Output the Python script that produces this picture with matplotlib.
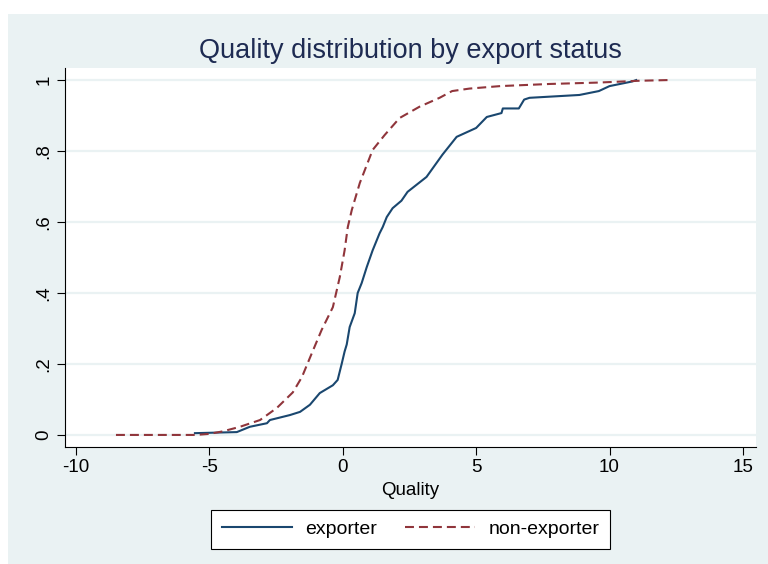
import matplotlib
matplotlib.use("Agg")
import matplotlib.pyplot as plt
from matplotlib.lines import Line2D

plt.rcParams['font.family'] = ['Liberation Sans', 'DejaVu Sans']
plt.rcParams['axes.unicode_minus'] = False

# Empirical CDF of quality, by export status
exporter_q = [-5.54, -3.97, -3.48, -2.84, -2.73, -1.98, -1.6, -1.23, -0.86, -0.37,
              -0.19, -0.04, 0.07, 0.15, 0.26, 0.45, 0.56, 0.71, 0.9, 1.12, 1.38,
              1.5, 1.65, 1.87, 2.2, 2.43, 3.14, 3.74, 4.27, 5.0, 5.4, 5.95, 6.0,
              6.6, 6.8, 7.0, 8.87, 9.6, 10.0, 10.85, 11.0]
exporter_cdf = [0.005, 0.008, 0.023, 0.033, 0.042, 0.056, 0.065, 0.085, 0.118, 0.14,
                0.155, 0.2, 0.235, 0.255, 0.304, 0.343, 0.4, 0.428, 0.473, 0.52, 0.568,
                0.586, 0.614, 0.639, 0.66, 0.685, 0.727, 0.79, 0.84, 0.865, 0.896, 0.907, 0.92,
                0.92, 0.945, 0.95, 0.958, 0.969, 0.983, 0.996, 1.0]

nonexporter_q = [-8.5, -5.5, -5.0, -4.5, -3.85, -3.1, -2.47, -1.87, -1.53, -1.16, -0.79,
                 -0.37, -0.11, 0.07, 0.19, 0.34, 0.64, 1.12, 1.57, 2.13, 2.88, 3.63,
                 4.1, 4.75, 5.9, 7.75, 9.6, 11.1, 12.2]
nonexporter_cdf = [0.0, 0.0, 0.003, 0.01, 0.023, 0.042, 0.076, 0.12, 0.163, 0.23, 0.296,
                   0.36, 0.445, 0.52, 0.586, 0.634, 0.71, 0.803, 0.845, 0.893, 0.925, 0.95,
                   0.969, 0.976, 0.983, 0.989, 0.993, 0.998, 1.0]

x_ticks = [-10, -5, 0, 5, 10, 15]
y_ticks = [0, 0.2, 0.4, 0.6, 0.8, 1.0]
y_tick_labels = ['0', '.2', '.4', '.6', '.8', '1']

navy = '#1A476F'
maroon = '#90353B'
bg = '#EAF2F3'

W, H = 768, 564
fig = plt.figure(figsize=(W / 100, H / 100), dpi=100, facecolor='white')

# graph region background
bg_ax = fig.add_axes([8 / W, 0, 1 - 8 / W, (H - 14) / H], zorder=0)
bg_ax.set_facecolor(bg)
bg_ax.set_xticks([])
bg_ax.set_yticks([])
for s in bg_ax.spines.values():
    s.set_visible(False)

ax = fig.add_axes([65 / W, (H - 447) / H, (756 - 65) / W, (447 - 68) / H], zorder=2)
ax.set_facecolor('white')

lw = 1.5
ax.plot(exporter_q, exporter_cdf, color=navy, lw=lw, label='exporter', zorder=3)
ax.plot(nonexporter_q, nonexporter_cdf, color=maroon, lw=lw,
        dashes=(4.3, 2.4), label='non-exporter', zorder=3)

ax.set_xlim(-10.41, 15.49)
ax.set_ylim(-0.034, 1.034)
ax.set_xticks(x_ticks)
ax.set_yticks(y_ticks)
ax.set_yticklabels(y_tick_labels, rotation=90, va='center')
ax.grid(axis='y', color=bg, lw=1.6, zorder=1)
ax.grid(axis='x', visible=False)

for s in ['top', 'right']:
    ax.spines[s].set_visible(False)
for s in ['left', 'bottom']:
    ax.spines[s].set_color('black')
    ax.spines[s].set_linewidth(0.8)

fs = 13.5
ax.tick_params(axis='both', direction='out', length=6, width=0.8,
               colors='black', labelsize=fs, pad=3)

ax.set_xlabel('Quality', fontsize=fs, labelpad=4)

fig.text(410 / W, 1 - 51 / H, 'Quality distribution by export status',
         ha='center', va='center', fontsize=19.5, color='#1E2B52', zorder=5)

handles = [Line2D([], [], color=navy, lw=lw),
           Line2D([], [], color=maroon, lw=lw, dashes=(4.3, 2.4))]
leg = fig.legend(handles, ['exporter', 'non-exporter'], loc='center',
                 bbox_to_anchor=(410.5 / W, 1 - 529 / H), ncol=2, frameon=True,
                 fancybox=False, edgecolor='black', facecolor='white', framealpha=1,
                 fontsize=14, handlelength=3.6, columnspacing=1.45,
                 handletextpad=0.68, borderpad=0.55)
leg.set_zorder(5)
leg.get_frame().set_linewidth(0.8)

fig.savefig('out.png', dpi=100, facecolor=fig.get_facecolor())
